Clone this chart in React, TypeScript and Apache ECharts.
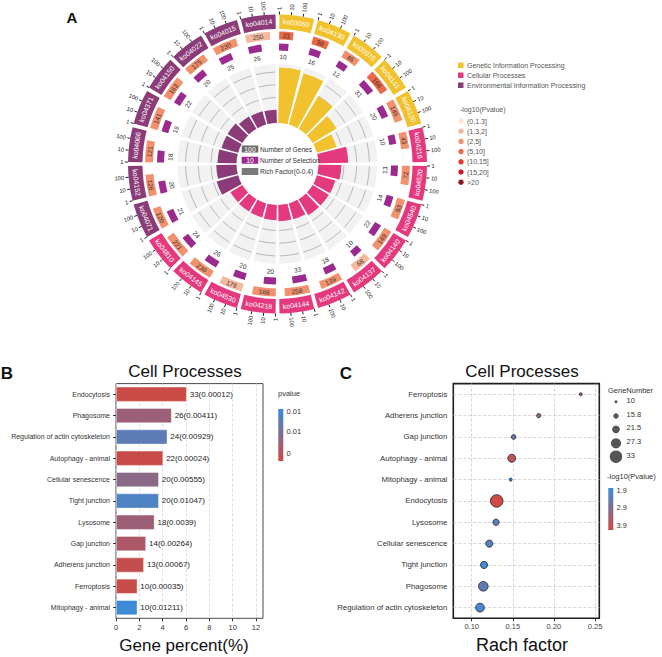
import React, { useEffect, useRef } from 'react';
import * as echarts from 'echarts';

const FONT = '"Liberation Sans", Arial, Helvetica, sans-serif';

// ---------------- Panel A data ----------------
const pathwayIds = ['ko03060', 'ko04130', 'ko00970', 'ko04141', 'ko04120', 'ko04216', 'ko04520', 'ko04540', 'ko04140', 'ko04137', 'ko04142', 'ko04144', 'ko04218', 'ko04530', 'ko04145', 'ko04810', 'ko04071', 'ko04152', 'ko04066', 'ko04371', 'ko04150', 'ko04022', 'ko04015', 'ko04014'];
const pathwayClass = [0, 0, 0, 0, 0, 1, 1, 1, 1, 1, 1, 1, 1, 1, 1, 1, 2, 2, 2, 2, 2, 2, 2, 2];
const geneCounts = [23, 38, 46, 168, 145, 43, 72, 93, 149, 68, 139, 258, 186, 176, 230, 221, 120, 126, 121, 141, 163, 175, 230, 250];
const selectionCounts = [10, 16, 12, 31, 20, 10, 13, 14, 22, 10, 18, 33, 20, 20, 26, 24, 21, 20, 18, 19, 22, 20, 25, 26];
const pLevel = [3, 3, 2, 3, 2, 2, 2, 2, 2, 1, 2, 2, 2, 1, 2, 2, 2, 2, 2, 2, 2, 2, 2, 1];
const richFactor = [0.435, 0.42, 0.3, 0.22, 0.16, 0.233, 0.18, 0.15, 0.148, 0.147, 0.13, 0.128, 0.12, 0.114, 0.113, 0.109, 0.175, 0.159, 0.149, 0.135, 0.135, 0.114, 0.109, 0.104];
const classNames = ['Genetic Information Processing', 'Cellular Processes', 'Environmental Information Processing'];
const pLevelLabels = ['(0,1.3]', '(1.3,2]', '(2,5]', '(5,10]', '(10,15]', '(15,20]', '>20'];
const sectorTickValues = [1, 10, 100];
const richGridLevels = [0.1, 0.2, 0.3, 0.4];

// ---------------- Panel B data ----------------
const barCategories = ['Endocytosis', 'Phagosome', 'Regulation of actin cytoskeleton', 'Autophagy - animal', 'Cellular senescence', 'Tight junction', 'Lysosome', 'Gap junction', 'Adherens junction', 'Ferroptosis', 'Mitophagy - animal'];
const barPercent = [6.06, 4.77, 4.4, 4.04, 3.67, 3.67, 3.3, 2.57, 2.39, 1.83, 1.83];
const barCounts = [33, 26, 24, 22, 20, 20, 18, 14, 13, 10, 10];
const barPvalues = [0.00012, 0.00411, 0.00929, 0.00024, 0.00555, 0.01047, 0.0039, 0.00264, 0.00067, 0.00035, 0.01211];
const percentTicks = [0, 2, 4, 6, 8, 10, 12];
const pvalueLegendLabels = ['0.01', '0.01', '0'];

// ---------------- Panel C data ----------------
const dotCategories = ['Ferroptosis', 'Adherens junction', 'Gap junction', 'Autophagy - animal', 'Mitophagy - animal', 'Endocytosis', 'Lysosome', 'Cellular senescence', 'Tight junction', 'Phagosome', 'Regulation of actin cytoskeleton'];
const dotRich = [0.2326, 0.1815, 0.151, 0.1487, 0.1474, 0.1304, 0.1296, 0.1214, 0.115, 0.1141, 0.1101];
const dotGenes = [10, 13, 14, 22, 10, 33, 18, 20, 20, 26, 24];
const dotLogP = [3.46, 3.17, 2.58, 3.62, 1.92, 3.92, 2.41, 2.26, 1.98, 2.39, 2.03];
const richTicks = [0.1, 0.15, 0.2, 0.25];
const geneLegend = [10, 15.8, 21.5, 27.3, 33];
const logPLegendLabels = ['1.9', '2.9', '3.9'];

// ---------------- styles / layout ----------------
const CLASS_COLORS = ['#f1c22e', '#e5397f', '#8b3b78'];
const LEVEL_COLORS = ['#fce3d7', '#f7b99e', '#f2916e', '#ec6847', '#e03a2c', '#c71c24', '#8b1a22'];
const SEL_COLOR = '#9b2a8e';
const B_RED = '#cc4a46';
const B_BLUE = '#3a8bd8';
const C_RED = '#cf4a45';
const C_BLUE = '#3a8ed8';

const CX = 277.5;
const CY = 164;
const RING = [135, 149.5];
const GENE_RING = [124.5, 132.5];
const SEL_RING = [113.5, 120.5];
const SEL_LABEL_R = 107.5;
const TICK_R = [149.5, 152.5];
const TICK_LABEL_R = 154;
const RING_PAD = 0.05;
const RICH_PAD = 0.065;
const ARC_PAD = 0.1;
const RICH_INNER = 41;
const RICH_OUTER = 100;
const RICH_MAX = 0.463;

const logPos = (v: number) => 0.05 + 0.305 * Math.log10(v);
const sizeScale = (n: number) => 3 + ((n - 10) * (12.5 - 3)) / (33 - 10);

const TWO_PI = Math.PI * 2;
function pt(api: any, r: number, a: number) {
  const c = api.coord([r, a]);
  const s = -c[3];
  let th = (s + Math.PI / 2) % TWO_PI;
  if (th < 0) th += TWO_PI;
  return { x: c[0], y: c[1], r: c[2], s, th };
}
function tangentRot(th: number) {
  let rot = -th;
  if (th > Math.PI / 2 && th < (3 * Math.PI) / 2) rot += Math.PI;
  return rot;
}
function radialRot(th: number) {
  if (th < Math.PI) return { rot: Math.PI / 2 - th, align: 'left' };
  return { rot: (3 * Math.PI) / 2 - th, align: 'right' };
}
function sector(cx: number, cy: number, p0: any, p1: any, r0: number, r: number, fill: string) {
  return { type: 'sector', shape: { cx, cy, r0, r, startAngle: p0.s, endAngle: p1.s, clockwise: true }, style: { fill } };
}
function txt(x: number, y: number, text: string, opts: any = {}) {
  return {
    type: 'text',
    x,
    y,
    z: 100,
    rotation: opts.rotation || 0,
    style: {
      text,
      fill: opts.fill || '#333',
      fontSize: opts.fontSize || 7,
      fontFamily: FONT,
      fontWeight: opts.fontWeight || 'normal',
      align: opts.align || 'left',
      verticalAlign: opts.verticalAlign || 'middle',
    },
  };
}

function buildOption() {
  const ringData = pathwayIds.map((_, i) => [i, pathwayClass[i]]);
  const geneData = pathwayIds.map((_, i) => [i, geneCounts[i], pLevel[i]]);
  const selData = pathwayIds.map((_, i) => [i, selectionCounts[i]]);
  const richData = pathwayIds.map((_, i) => [i, richFactor[i], pathwayClass[i]]);

  const ringRender = (params: any, api: any) => {
    const i = api.value(0);
    const cls = api.value(1);
    const { cx, cy } = params.coordSys;
    const p0 = pt(api, RING[0], i + RING_PAD);
    const p1 = pt(api, RING[1], i + 1 - RING_PAD);
    const mid = pt(api, (RING[0] + RING[1]) / 2, i + 0.5);
    const children: any[] = [
      sector(cx, cy, p0, p1, p0.r, p1.r, CLASS_COLORS[cls]),
      txt(mid.x, mid.y, pathwayIds[i], { fill: '#fff', fontSize: 7, align: 'center', rotation: tangentRot(mid.th) }),
    ];
    sectorTickValues.forEach((v) => {
      const a = i + logPos(v);
      const t0 = pt(api, TICK_R[0], a);
      const t1 = pt(api, TICK_R[1], a);
      const tl = pt(api, TICK_LABEL_R, a);
      children.push({ type: 'line', shape: { x1: t0.x, y1: t0.y, x2: t1.x, y2: t1.y }, style: { stroke: '#222', lineWidth: 1 } });
      const rr = radialRot(tl.th);
      children.push(txt(tl.x, tl.y, String(v), { fill: '#222', fontSize: 5.8, align: rr.align, rotation: rr.rot }));
    });
    return { type: 'group', children };
  };

  const geneRender = (params: any, api: any) => {
    const i = api.value(0);
    const n = api.value(1);
    const lvl = api.value(2);
    const { cx, cy } = params.coordSys;
    const a0 = i + logPos(1);
    const a1 = i + logPos(n);
    const p0 = pt(api, GENE_RING[0], a0);
    const p1 = pt(api, GENE_RING[1], a1);
    const mid = pt(api, (GENE_RING[0] + GENE_RING[1]) / 2, (a0 + a1) / 2);
    return {
      type: 'group',
      children: [
        sector(cx, cy, p0, p1, p0.r, p1.r, LEVEL_COLORS[lvl]),
        txt(mid.x, mid.y, String(n), { fill: '#333', fontSize: 6.5, align: 'center', rotation: tangentRot(mid.th) }),
      ],
    };
  };

  const selRender = (params: any, api: any) => {
    const i = api.value(0);
    const n = api.value(1);
    const { cx, cy } = params.coordSys;
    const a0 = i + logPos(1);
    const a1 = i + logPos(n);
    const p0 = pt(api, SEL_RING[0], a0);
    const p1 = pt(api, SEL_RING[1], a1);
    const lab = pt(api, SEL_LABEL_R, (a0 + a1) / 2);
    return {
      type: 'group',
      children: [
        sector(cx, cy, p0, p1, p0.r, p1.r, SEL_COLOR),
        txt(lab.x, lab.y, String(n), { fill: '#333', fontSize: 6.5, align: 'center', rotation: tangentRot(lab.th) }),
      ],
    };
  };

  const richRender = (params: any, api: any) => {
    const i = api.value(0);
    const rf = api.value(1);
    const cls = api.value(2);
    const { cx, cy } = params.coordSys;
    const b0 = pt(api, 0, i + RICH_PAD);
    const b1 = pt(api, RICH_MAX, i + 1 - RICH_PAD);
    const children: any[] = [sector(cx, cy, b0, b1, b0.r, b1.r, '#f2f2f2')];
    richGridLevels.forEach((g) => {
      const q0 = pt(api, g, i + ARC_PAD);
      const q1 = pt(api, g, i + 1 - ARC_PAD);
      children.push({
        type: 'arc',
        shape: { cx, cy, r: q0.r, startAngle: q0.s, endAngle: q1.s, clockwise: true },
        style: { stroke: '#b8b8b8', lineWidth: 1, fill: null },
      });
    });
    const top = pt(api, Math.min(rf, RICH_MAX), i + 1 - RICH_PAD);
    children.push(sector(cx, cy, b0, top, b0.r, top.r, CLASS_COLORS[cls]));
    return { type: 'group', children };
  };

  const barData = barCategories.map((c, i) => [barPercent[i], c, barPvalues[i], barCounts[i]]);
  const dotData = dotCategories.map((c, i) => [dotRich[i], c, dotLogP[i], dotGenes[i]]);

  const g: any[] = [];
  g.push(txt(72, 17, 'A', { fontSize: 15, fontWeight: 'bold', fill: '#111', align: 'center' }));
  g.push(txt(7, 373, 'B', { fontSize: 17, fontWeight: 'bold', fill: '#111', align: 'center' }));
  g.push(txt(346, 373, 'C', { fontSize: 17, fontWeight: 'bold', fill: '#111', align: 'center' }));
  g.push(txt(185, 371, 'Cell Processes', { fontSize: 17, fill: '#111', align: 'center' }));
  g.push(txt(522, 371, 'Cell Processes', { fontSize: 17, fill: '#111', align: 'center' }));
  g.push(txt(184, 645, 'Gene percent(%)', { fontSize: 17, fill: '#111', align: 'center' }));
  g.push(txt(522, 645, 'Rach factor', { fontSize: 18, fill: '#111', align: 'center' }));

  classNames.forEach((name, k) => {
    const y = 65.3 + k * 10;
    g.push({ type: 'rect', z: 100, shape: { x: 458, y: y - 2.8, width: 5.5, height: 5.5 }, style: { fill: CLASS_COLORS[k] } });
    g.push(txt(467, y, name, { fontSize: 7, fill: '#555' }));
  });
  g.push(txt(460, 109, '-log10(Pvalue)', { fontSize: 7, fill: '#555' }));
  pLevelLabels.forEach((lab, k) => {
    const y = 121 + k * 10.2;
    g.push({ type: 'circle', z: 100, shape: { cx: 461, cy: y, r: 2.7 }, style: { fill: LEVEL_COLORS[k] } });
    g.push(txt(467, y, lab, { fontSize: 7, fill: '#555' }));
  });

  const innerRows = [
    { box: '#6b6b6b', boxText: '100', label: 'Number of Genes' },
    { box: SEL_COLOR, boxText: '10', label: 'Number of Selection' },
    { box: '#7a7a7a', boxText: '', label: 'Rich Factor(0-0.4)' },
  ];
  innerRows.forEach((row, k) => {
    const y = 149 + k * 11.2;
    g.push({ type: 'rect', z: 100, shape: { x: 241.7, y: y - 3.5, width: 16.6, height: 7 }, style: { fill: row.box } });
    if (row.boxText) g.push(txt(250, y, row.boxText, { fontSize: 6.8, fill: '#fff', align: 'center' }));
    g.push(txt(260, y, row.label, { fontSize: 6.6, fill: '#333' }));
  });

  g.push(txt(278, 393, 'pvalue', { fontSize: 7.5, fill: '#333' }));
  g.push({
    type: 'rect',
    z: 100,
    shape: { x: 278.3, y: 409, width: 5, height: 52 },
    style: { fill: new echarts.graphic.LinearGradient(0, 0, 0, 1, [{ offset: 0, color: B_BLUE }, { offset: 1, color: B_RED }]) },
  });
  [411.7, 431.7, 453.3].forEach((y, k) => g.push(txt(286.5, y, pvalueLegendLabels[k], { fontSize: 7.5, fill: '#333' })));

  g.push(txt(608, 390, 'GeneNumber', { fontSize: 7.5, fill: '#333' }));
  [401.7, 416, 429.3, 443.3, 456.7].forEach((y, k) => {
    g.push({ type: 'circle', z: 100, shape: { cx: 616, cy: y, r: sizeScale(geneLegend[k]) / 2 }, style: { fill: '#555' } });
    g.push(txt(626.5, y - 1.5, String(geneLegend[k]), { fontSize: 7.5, fill: '#333' }));
  });
  g.push(txt(607, 476.7, '-log10(Pvalue)', { fontSize: 7.5, fill: '#333' }));
  g.push({
    type: 'rect',
    z: 100,
    shape: { x: 608.3, y: 488, width: 5, height: 42 },
    style: { fill: new echarts.graphic.LinearGradient(0, 0, 0, 1, [{ offset: 0, color: C_BLUE }, { offset: 1, color: C_RED }]) },
  });
  [490, 507, 525].forEach((y, k) => g.push(txt(616.5, y, logPLegendLabels[k], { fontSize: 7.5, fill: '#333' })));

  return {
    animation: false,
    backgroundColor: '#fff',
    textStyle: { fontFamily: FONT },
    polar: [
      { center: [CX, CY], radius: [0, RING[1]] },
      { center: [CX, CY], radius: [RICH_INNER, RICH_OUTER] },
    ],
    angleAxis: [
      { polarIndex: 0, type: 'value', min: 0, max: 24, startAngle: 90, clockwise: true, show: false },
      { polarIndex: 1, type: 'value', min: 0, max: 24, startAngle: 90, clockwise: true, show: false },
    ],
    radiusAxis: [
      { polarIndex: 0, type: 'value', min: 0, max: RING[1], show: false },
      { polarIndex: 1, type: 'value', min: 0, max: RICH_MAX, show: false },
    ],
    grid: [
      { left: 116, top: 383.6, width: 147, height: 234.7, show: true, borderColor: '#4a4a4a', borderWidth: 1, backgroundColor: 'transparent' },
      { left: 453.3, top: 383.6, width: 146, height: 234.7, show: true, borderColor: '#1e1e1e', borderWidth: 1.6, backgroundColor: 'transparent' },
    ],
    xAxis: [
      {
        gridIndex: 0,
        type: 'value',
        min: 0,
        max: 12.6,
        interval: 2,
        axisLine: { show: false },
        axisTick: { show: true, length: 3, customValues: percentTicks, lineStyle: { color: '#333' } },
        axisLabel: { customValues: percentTicks, fontSize: 7.5, color: '#333', margin: 5, fontFamily: FONT },
        splitLine: { show: true, lineStyle: { type: [3, 2], color: '#d6d6d6', width: 0.8 } },
      },
      {
        gridIndex: 1,
        type: 'value',
        min: 0.0776,
        max: 0.2552,
        axisLine: { show: false },
        axisTick: { show: true, length: 3, customValues: richTicks, lineStyle: { color: '#333' } },
        axisLabel: { customValues: richTicks, formatter: (v: number) => v.toFixed(2), fontSize: 7.5, color: '#444', margin: 4, fontFamily: FONT },
        splitLine: { show: false },
      },
    ],
    yAxis: [
      {
        gridIndex: 0,
        type: 'category',
        data: barCategories,
        inverse: true,
        axisLine: { show: false },
        axisTick: { show: true, length: 3, alignWithLabel: true, lineStyle: { color: '#333' } },
        axisLabel: { fontSize: 7, color: '#333', margin: 6, fontFamily: FONT },
        splitLine: { show: false },
      },
      {
        gridIndex: 1,
        type: 'category',
        data: dotCategories,
        inverse: true,
        axisLine: { show: false },
        axisTick: { show: false },
        axisLabel: { fontSize: 7.8, color: '#333', margin: 6, fontFamily: FONT },
        splitLine: { show: false },
      },
    ],
    visualMap: [
      { type: 'continuous', show: false, seriesIndex: 4, dimension: 2, min: 0, max: 0.0122, inRange: { color: [B_RED, B_BLUE] } },
      { type: 'continuous', show: false, seriesIndex: 5, dimension: 2, min: 1.9, max: 3.9, inRange: { color: [C_BLUE, C_RED] } },
    ],
    series: [
      { type: 'custom', coordinateSystem: 'polar', polarIndex: 0, data: ringData, renderItem: ringRender, silent: true },
      { type: 'custom', coordinateSystem: 'polar', polarIndex: 0, data: geneData, renderItem: geneRender, silent: true },
      { type: 'custom', coordinateSystem: 'polar', polarIndex: 0, data: selData, renderItem: selRender, silent: true },
      { type: 'custom', coordinateSystem: 'polar', polarIndex: 1, data: richData, renderItem: richRender, silent: true },
      {
        type: 'bar',
        xAxisIndex: 0,
        yAxisIndex: 0,
        data: barData,
        encode: { x: 0, y: 1 },
        barCategoryGap: '30%',
        itemStyle: { borderColor: 'rgba(255,255,255,0.7)', borderWidth: 0.6 },
        label: {
          show: true,
          position: 'right',
          distance: 3,
          formatter: (p: any) => `${p.value[3]}(${p.value[2]})`,
          fontSize: 8,
          color: '#222',
          fontFamily: FONT,
        },
      },
      {
        type: 'scatter',
        xAxisIndex: 1,
        yAxisIndex: 1,
        data: dotData,
        encode: { x: 0, y: 1 },
        symbolSize: (v: any) => sizeScale(v[3]),
        itemStyle: { borderColor: '#222', borderWidth: 0.8, opacity: 1 },
        z: 3,
        markLine: {
          silent: true,
          symbol: 'none',
          z: 1,
          animation: false,
          label: { show: false },
          lineStyle: { type: [3, 2], color: '#cccccc', width: 0.8 },
          data: [...richTicks.map((v) => ({ xAxis: v })), ...dotCategories.map((c) => ({ yAxis: c }))],
        },
      },
    ],
    graphic: { elements: g },
  };
}

export default function App() {
  const ref = useRef<HTMLDivElement>(null);
  useEffect(() => {
    if (!ref.current) return;
    const chart = echarts.init(ref.current, null, { renderer: 'svg' });
    chart.setOption(buildOption() as any);
    return () => chart.dispose();
  }, []);
  return <div ref={ref} style={{ position: 'fixed', left: 0, top: 0, width: 662, height: 657, background: '#fff' }} />;
}
